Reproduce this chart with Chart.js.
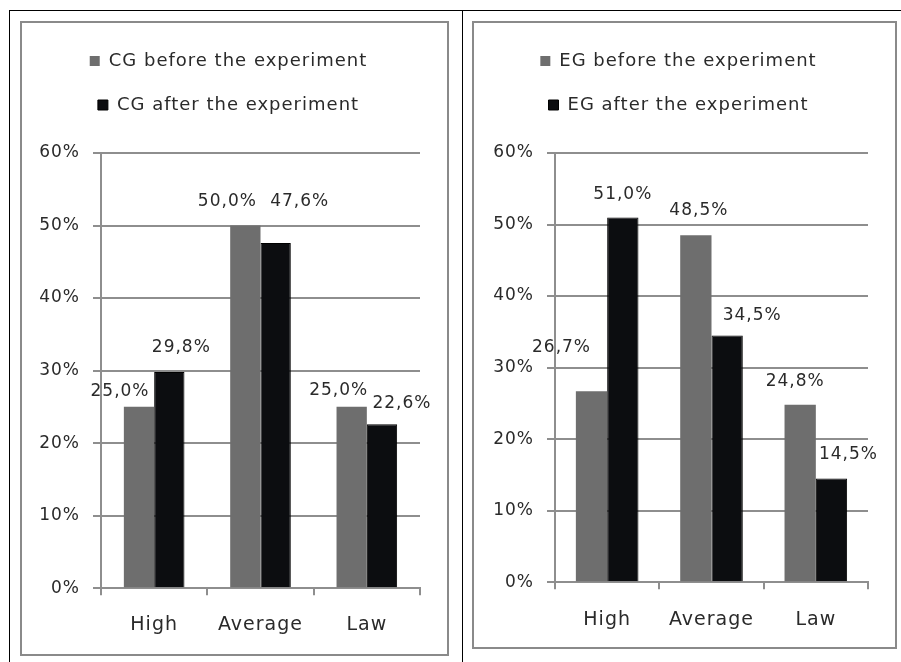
<!DOCTYPE html>
<html>
<head>
<meta charset="utf-8">
<title>CG / EG before and after the experiment</title>
<script src="https://cdn.jsdelivr.net/npm/chart.js@4.4.1/dist/chart.umd.min.js"></script>
<style>
  html, body { margin: 0; padding: 0; background: #fff; }
  body { width: 901px; height: 662px; position: relative; overflow: hidden; }
  .rule { position: absolute; background: #000; }
  .frame { position: absolute; box-sizing: border-box; border: 2px solid #8a8a8a; background: #fff; }
  .frame canvas { display: block; }
</style>
</head>
<body>
<!-- table rules around the two charts -->
<div class="rule" style="left:9px; top:10px; width:892px; height:1px"></div>
<div class="rule" style="left:9px; top:10px; width:1px; height:652px"></div>
<div class="rule" style="left:462px; top:10px; width:1px; height:652px"></div>

<div class="frame" style="left:20px; top:21px; width:429px; height:635px">
  <canvas id="cgChart" width="425" height="631"></canvas>
</div>
<div class="frame" style="left:472px; top:21px; width:425px; height:628px">
  <canvas id="egChart" width="421" height="624"></canvas>
</div>

<script>
// categories and values (percent)
const categories = ["High", "Average", "Law"];
const cgBefore = [25.0, 50.0, 25.0];
const cgAfter = [29.8, 47.6, 22.6];
const egBefore = [26.7, 48.5, 24.8];
const egAfter = [51.0, 34.5, 14.5];
const yTicks = [0, 10, 20, 30, 40, 50, 60];

const GRAY_BAR = "#6e6e6e";
const BLACK_BAR = "#0c0d10";
const AXIS_GRAY = "#8e8e8e";
const TEXT = "#2a2a2a";

Chart.defaults.font.family = "'DejaVu Sans', sans-serif";

// the value labels were nudged by hand, [dx, dy] from the top centre of each bar
const cgLabelNudge = [
  [[-19, -15], [-18, -24], [-13, -16]],
  [[12, -24], [24, -41], [20, -21]],
];
const egLabelNudge = [
  [[-30, -44], [3, -25], [-5, -23]],
  [[0, -23], [25, -20], [17, -24]],
];

function fmtPercent(v) {
  return v.toFixed(1).replace(".", ",") + "%";
}

// slightly wider text everywhere, canvas state gets reset on resize so set it on every pass
const letterSpacing = {
  id: "letterSpacing",
  beforeUpdate(chart) { chart.ctx.letterSpacing = "1px"; },
  beforeDraw(chart) { chart.ctx.letterSpacing = "1px"; },
};

// draws "25,0%" style labels above the bars
const valueLabels = {
  id: "valueLabels",
  afterDatasetsDraw(chart, args, opts) {
    const ctx = chart.ctx;
    ctx.save();
    ctx.font = "17px 'DejaVu Sans'";
    ctx.fillStyle = TEXT;
    ctx.textAlign = "center";
    ctx.textBaseline = "middle";
    chart.data.datasets.forEach((ds, di) => {
      chart.getDatasetMeta(di).data.forEach((bar, i) => {
        const [dx, dy] = opts.nudge[di][i];
        ctx.fillText(fmtPercent(ds.data[i]), bar.x + dx, bar.y + dy);
      });
    });
    ctx.restore();
  },
};

// left padding is kept close to the right one so the legend stays near the middle;
// the y axis gets a fixed width instead of the measured one
function makeChart(canvasId, group, before, after, nudge, pad, yAxisWidth, xTickPad, catPct) {
  const ctx = document.getElementById(canvasId).getContext("2d");
  return new Chart(ctx, {
    type: "bar",
    data: {
      labels: categories,
      datasets: [
        {
          label: group + " before the experiment",
          data: before,
          backgroundColor: GRAY_BAR,
          borderWidth: 0,
        },
        {
          label: group + " after the experiment",
          data: after,
          backgroundColor: BLACK_BAR,
          borderColor: "#000",
          borderWidth: 1,
        },
      ],
    },
    options: {
      responsive: false,
      animation: false,
      datasets: { bar: { categoryPercentage: catPct, barPercentage: 1 } },
      layout: { padding: pad },
      scales: {
        x: {
          grid: { drawOnChartArea: false, color: AXIS_GRAY, lineWidth: 2, tickLength: 7 },
          border: { color: AXIS_GRAY, width: 2 },
          ticks: { color: TEXT, font: { size: 19 }, padding: xTickPad },
        },
        y: {
          min: yTicks[0],
          max: yTicks[yTicks.length - 1],
          grid: { color: AXIS_GRAY, lineWidth: 2, tickLength: 8 },
          border: { color: AXIS_GRAY, width: 2 },
          ticks: {
            stepSize: yTicks[1] - yTicks[0],
            color: TEXT,
            font: { size: 17 },
            padding: 13,
            callback: (v) => v + "%",
          },
          afterFit(scale) {
            scale.width = yAxisWidth;
          },
        },
      },
      plugins: {
        legend: {
          position: "top",
          labels: { boxWidth: 10, boxHeight: 10, padding: 26, color: TEXT, font: { size: 18 } },
        },
        // empty title used as a gap between the legend and the plot
        title: {
          display: true,
          text: "",
          weight: 900,
          font: { size: 10, lineHeight: 1 },
          padding: { top: 19, bottom: 0 },
        },
        tooltip: { enabled: false },
        valueLabels: { nudge: nudge },
      },
    },
    plugins: [letterSpacing, valueLabels],
  });
}

document.addEventListener("DOMContentLoaded", function () {
  makeChart("cgChart", "CG", cgBefore, cgAfter, cgLabelNudge,
    { top: 3, left: 15, right: 27, bottom: 0 }, 64, 18, 0.57);
  makeChart("egChart", "EG", egBefore, egAfter, egLabelNudge,
    { top: 3, left: 15, right: 27, bottom: -3 }, 66, 19, 0.6);
});
</script>
</body>
</html>
